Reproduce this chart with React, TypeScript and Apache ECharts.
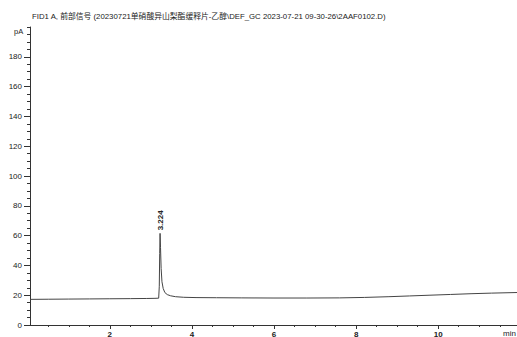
import React, { useEffect, useRef } from "react";
import * as echarts from "echarts";

const titleText =
  "FID1 A, 前部信号 (20230721单硝酸异山梨酯缓释片-乙醇\\DEF_GC 2023-07-21 09-30-26\\2AAF0102.D)";

const times = [
  0.055, 0.5, 1.0, 1.5, 2.0, 2.5, 2.9, 3.1, 3.19, 3.205, 3.215, 3.224,
  3.235, 3.25, 3.27, 3.3, 3.34, 3.4, 3.48, 3.6, 3.8, 4.1,
  4.6, 5.2, 6.0, 6.8, 7.6, 8.2, 8.8, 9.3, 9.8, 10.3,
  10.8, 11.3, 11.92,
];
const signal = [
  17.2, 17.3, 17.4, 17.5, 17.6, 17.7, 17.8, 17.9, 18.0, 26, 48, 61.5,
  52, 38, 29, 24.5, 21.8, 20.4, 19.6, 19.0, 18.6, 18.4,
  18.3, 18.2, 18.1, 18.1, 18.2, 18.5, 19.0, 19.5, 20.0, 20.5,
  21.0, 21.4, 21.8,
];
const peakIndex = 11;
const peakLabel = "3.224";

const xMajorTicks = [2, 4, 6, 8, 10];
const xMinorTicks = [0.5, 1, 1.5, 2.5, 3, 3.5, 4.5, 5, 5.5, 6.5, 7, 7.5, 8.5, 9, 9.5, 10.5, 11, 11.5];
const yMajorTicks = [0, 20, 40, 60, 80, 100, 120, 140, 160, 180];
const yMinorTicks: number[] = [];
for (let v = 5; v <= 200; v += 5) if (v % 20 !== 0 || v === 200) yMinorTicks.push(v);

const X_MIN = 0.055;
const X_MAX = 11.92;
const Y_MAX = 200;

const AXIS_COLOR = "#333";
const TEXT_COLOR = "#222";
const FONT = "'Liberation Sans', Arial, 'Noto Sans CJK SC', sans-serif";

export default function App() {
  const ref = useRef<HTMLDivElement>(null);
  useEffect(() => {
    document.body.style.margin = "0";
    const chart = echarts.init(ref.current!, null, { renderer: "svg" });
    const data = times.map((t, i) => [t, signal[i]]);
    chart.setOption({
      animation: false,
      backgroundColor: "#fff",
      textStyle: { fontFamily: FONT },
      grid: { left: 30, right: 0, top: 27, bottom: 12, outerBoundsMode: "none", containLabel: false },
      graphic: [
        { type: "text", left: 32, top: 13, style: { text: titleText, fontSize: 7.8, fill: TEXT_COLOR, fontFamily: FONT } },
        { type: "text", left: 14, top: 28, style: { text: "pA", fontSize: 7.5, fill: TEXT_COLOR, fontFamily: FONT } },
        { type: "text", left: 503, top: 329, style: { text: "min", fontSize: 8, fill: TEXT_COLOR, fontFamily: FONT } },
      ],
      xAxis: [
        {
          type: "value",
          min: X_MIN,
          max: X_MAX,
          position: "bottom",
          splitLine: { show: false },
          axisLine: { onZero: false, lineStyle: { color: AXIS_COLOR, width: 1 } },
          axisTick: { customValues: xMajorTicks, length: 4, lineStyle: { color: AXIS_COLOR } },
          axisLabel: { customValues: xMajorTicks, fontSize: 8, color: TEXT_COLOR, margin: 5, fontWeight: "bold" },
        },
        {
          type: "value",
          min: X_MIN,
          max: X_MAX,
          position: "bottom",
          splitLine: { show: false },
          axisLine: { show: false, onZero: false },
          axisTick: { customValues: xMinorTicks, length: 2, lineStyle: { color: AXIS_COLOR } },
          axisLabel: { show: false },
        },
      ],
      yAxis: [
        {
          type: "value",
          min: 0,
          max: Y_MAX,
          position: "left",
          splitLine: { show: false },
          axisLine: { show: true, onZero: false, lineStyle: { color: AXIS_COLOR, width: 1 } },
          axisTick: { show: true, customValues: yMajorTicks, length: 6, lineStyle: { color: AXIS_COLOR } },
          axisLabel: { customValues: yMajorTicks, fontSize: 8, color: TEXT_COLOR, margin: 8 },
        },
        {
          type: "value",
          min: 0,
          max: Y_MAX,
          position: "left",
          splitLine: { show: false },
          axisLine: { show: false, onZero: false },
          axisTick: { show: true, customValues: yMinorTicks, length: 3, lineStyle: { color: AXIS_COLOR } },
          axisLabel: { show: false },
        },
      ],
      series: [
        {
          type: "line",
          xAxisIndex: 0,
          yAxisIndex: 0,
          data,
          showSymbol: false,
          symbol: "none",
          lineStyle: { color: "#444", width: 1 },
          markPoint: {
            symbol: "circle",
            symbolSize: 0,
            data: [{ coord: [times[peakIndex], signal[peakIndex]], value: peakLabel }],
            label: {
              show: true,
              position: "top",
              distance: 3,
              rotate: 90,
              align: "left",
              verticalAlign: "middle",
              fontSize: 8,
              fontWeight: "bold",
              color: TEXT_COLOR,
              formatter: peakLabel,
            },
          },
        },
      ],
    });
    return () => chart.dispose();
  }, []);
  return <div ref={ref} style={{ width: 517, height: 337 }} />;
}
